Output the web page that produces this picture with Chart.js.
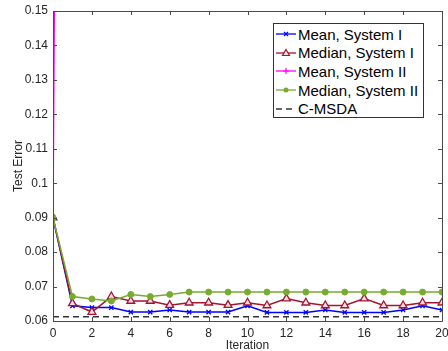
<!DOCTYPE html>
<html>
<head>
<script src="https://cdn.jsdelivr.net/npm/chart.js"></script>
<style>
    body { margin: 0; background: #fff; font-family: 'Liberation Sans', Arial, sans-serif; }
    #wrap { position: relative; width: 448px; height: 351px; }
    #legend {
        position: absolute; left: 273px; top: 23px; width: 151px; height: 95px;
        box-sizing: border-box; border: 1px solid #333; background: #fff;
        padding: 1px 0 0 1px; font-size: 15px; color: #000;
    }
    .item { display: flex; align-items: center; height: 18.6px; white-space: nowrap; }
    .item svg { margin-right: 1px; flex: none; }
</style>
</head>
<body>
<div id="wrap">
    <canvas id="chart" width="448" height="351"></canvas>
    <div id="legend"></div>
</div>
<script>
const iterations = [0, 1, 2, 3, 4, 5, 6, 7, 8, 9, 10, 11, 12, 13, 14, 15, 16, 17, 18, 19, 20];
const meanSys1   = [0.0900, 0.0644, 0.0639, 0.0639, 0.0626, 0.0626, 0.0632, 0.0626, 0.0626, 0.0626, 0.0644,
                    0.0625, 0.0625, 0.0625, 0.0632, 0.0625, 0.0625, 0.0625, 0.0632, 0.0644, 0.0632];
const medianSys1 = [0.0900, 0.0651, 0.0626, 0.0671, 0.0658, 0.0658, 0.0646, 0.0653, 0.0653, 0.0646, 0.0653,
                    0.0645, 0.0665, 0.0653, 0.0645, 0.0645, 0.0665, 0.0645, 0.0645, 0.0653, 0.0653];
// diverges: everything after iteration 0 is above the visible range
const meanSys2   = [0.0900, 1.00, 1.10, 1.05, 1.20, 1.15, 1.10, 1.20, 1.25, 1.20, 1.15,
                    1.20, 1.30, 1.25, 1.20, 1.30, 1.25, 1.30, 1.35, 1.30, 1.30];
const medianSys2 = [0.0900, 0.0671, 0.0664, 0.0658, 0.0677, 0.0671, 0.0677, 0.0684, 0.0684, 0.0684, 0.0684,
                    0.0684, 0.0684, 0.0684, 0.0684, 0.0684, 0.0684, 0.0684, 0.0684, 0.0684, 0.0684];
const cmsda      = [0.0612, 0.0612, 0.0612, 0.0612, 0.0612, 0.0612, 0.0612, 0.0612, 0.0612, 0.0612, 0.0612,
                    0.0612, 0.0612, 0.0612, 0.0612, 0.0612, 0.0612, 0.0612, 0.0612, 0.0612, 0.0612];
const seriesNames = ['Mean, System I', 'Median, System I', 'Mean, System II', 'Median, System II', 'C-MSDA'];

const pts = arr => iterations.map((x, i) => ({ x: x, y: arr[i] }));

// box with inward ticks, matlab style
const boxTicks = {
    id: 'boxTicks',
    afterDatasetsDraw(chart) {
        const { ctx, chartArea: { left, right, top, bottom }, scales: { x, y } } = chart;
        ctx.save();
        ctx.strokeStyle = '#4a4a4a';
        ctx.lineWidth = 1;
        ctx.beginPath();
        ctx.rect(Math.round(left) + 0.5, Math.round(top) + 0.5, Math.round(right - left), Math.round(bottom - top));
        x.ticks.forEach(t => {
            const px = Math.round(x.getPixelForValue(t.value)) + 0.5;
            ctx.moveTo(px, bottom); ctx.lineTo(px, bottom - 4);
            ctx.moveTo(px, top); ctx.lineTo(px, top + 4);
        });
        y.ticks.forEach(t => {
            const py = Math.round(y.getPixelForValue(t.value)) + 0.5;
            ctx.moveTo(left, py); ctx.lineTo(left + 4, py);
            ctx.moveTo(right, py); ctx.lineTo(right - 4, py);
        });
        ctx.stroke();
        ctx.restore();
    }
};

const chart = new Chart(document.getElementById('chart'), {
    type: 'line',
    data: {
        datasets: [
            { label: seriesNames[0], data: pts(meanSys1), borderColor: '#0000ff', backgroundColor: '#0000ff',
              pointStyle: 'crossRot', pointRadius: 3, pointBorderWidth: 1.3, borderWidth: 1.5, order: 5 },
            { label: seriesNames[1], data: pts(medianSys1), borderColor: '#a2142f', backgroundColor: '#f7e1e5',
              pointStyle: 'triangle', pointRadius: 4.5, pointBorderWidth: 1.3, borderWidth: 1.5, order: 4 },
            { label: seriesNames[2], data: pts(meanSys2), borderColor: '#ff00ff', backgroundColor: '#ff00ff',
              pointStyle: 'cross', pointRadius: 3.5, pointBorderWidth: 1.3, borderWidth: 1.5, order: 3 },
            { label: seriesNames[3], data: pts(medianSys2), borderColor: '#77ac30', backgroundColor: '#77ac30',
              pointStyle: 'circle', pointRadius: 3, pointBorderWidth: 1, borderWidth: 1.5, order: 2 },
            { label: seriesNames[4], data: pts(cmsda), borderColor: '#333333', borderDash: [6, 4],
              pointRadius: 0, borderWidth: 1.5, order: 1 }
        ]
    },
    options: {
        responsive: false,
        animation: false,
        devicePixelRatio: 1,
        layout: { padding: { top: 11, right: 6, left: 0, bottom: 0 } },
        plugins: { legend: { display: false }, tooltip: { enabled: false } },
        scales: {
            x: {
                type: 'linear', min: 0, max: 20,
                grid: { display: false, drawTicks: false },
                border: { display: false },
                ticks: { stepSize: 2, color: '#262626', font: { size: 12, family: 'Liberation Sans' }, padding: 5, maxRotation: 0 },
                title: { display: true, text: 'Iteration', color: '#262626', font: { size: 12, family: 'Liberation Sans' },
                         padding: { top: 0, bottom: -2 } },
                afterFit: s => { s.height = 30; s.paddingLeft = 0; s.paddingRight = 0; }
            },
            y: {
                min: 0.06, max: 0.15,
                grid: { display: false, drawTicks: false },
                border: { display: false },
                ticks: { stepSize: 0.01, color: '#262626', font: { size: 12, family: 'Liberation Sans' }, padding: 5,
                         callback: v => String(Number(v.toFixed(2))) },
                title: { display: true, text: 'Test Error', color: '#262626', font: { size: 12, family: 'Liberation Sans' },
                         padding: { top: 11, bottom: 0 } },
                afterFit: s => { s.width = 53; s.paddingTop = 0; s.paddingBottom = 0; }
            }
        }
    },
    plugins: [boxTicks]
});

// legend box inside the axes
const markers = [
    '<line x1="1" y1="6" x2="21" y2="6" stroke="#0000ff" stroke-width="1.3"/><path d="M9 4L13 8M13 4L9 8" stroke="#0000ff" stroke-width="1.2"/>',
    '<line x1="1" y1="6" x2="21" y2="6" stroke="#a2142f" stroke-width="1.3"/><path d="M11 2.5L14.5 8.5L7.5 8.5Z" fill="#f7e1e5" stroke="#a2142f" stroke-width="1.2"/>',
    '<line x1="1" y1="6" x2="21" y2="6" stroke="#ff00ff" stroke-width="1.3"/><path d="M11 3V9M8 6H14" stroke="#ff00ff" stroke-width="1.2"/>',
    '<line x1="1" y1="6" x2="21" y2="6" stroke="#77ac30" stroke-width="1.3"/><circle cx="11" cy="6" r="2.5" fill="#77ac30"/>',
    '<line x1="1" y1="6" x2="21" y2="6" stroke="#333" stroke-width="1.3" stroke-dasharray="6 4"/>'
];
const legendBox = document.getElementById('legend');
seriesNames.forEach((name, i) => {
    const row = document.createElement('div');
    row.className = 'item';
    row.innerHTML = `<svg width="22" height="12">${markers[i]}</svg><span>${name}</span>`;
    legendBox.appendChild(row);
});
</script>
</body>
</html>
